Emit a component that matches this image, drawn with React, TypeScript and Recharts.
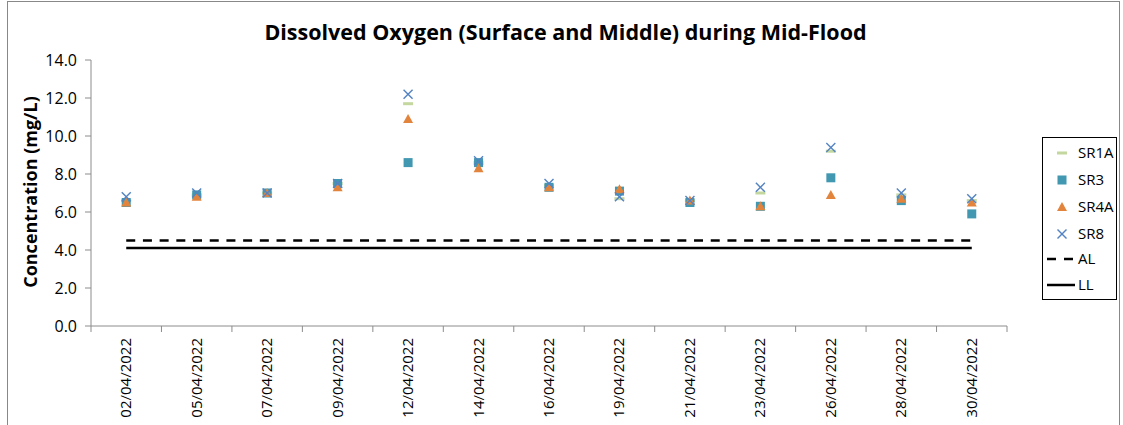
import { ComposedChart, Line, XAxis, YAxis } from "recharts";

const dates = [
  "02/04/2022", "05/04/2022", "07/04/2022", "09/04/2022", "12/04/2022", "14/04/2022", "16/04/2022",
  "19/04/2022", "21/04/2022", "23/04/2022", "26/04/2022", "28/04/2022", "30/04/2022",
];
const sr1a = [6.6, 6.9, 7.0, 7.5, 11.7, 8.6, 7.4, 6.7, 6.6, 7.0, 9.2, 6.9, 6.6];
const sr3 = [6.5, 6.9, 7.0, 7.5, 8.6, 8.6, 7.3, 7.1, 6.5, 6.3, 7.8, 6.6, 5.9];
const sr4a = [6.5, 6.8, 7.0, 7.3, 10.9, 8.3, 7.3, 7.2, 6.6, 6.3, 6.9, 6.7, 6.5];
const sr8 = [6.8, 7.0, 7.0, 7.5, 12.2, 8.7, 7.5, 6.8, 6.6, 7.3, 9.4, 7.0, 6.7];
const actionLevel = [4.5, 4.5, 4.5, 4.5, 4.5, 4.5, 4.5, 4.5, 4.5, 4.5, 4.5, 4.5, 4.5];
const limitLevel = [4.1, 4.1, 4.1, 4.1, 4.1, 4.1, 4.1, 4.1, 4.1, 4.1, 4.1, 4.1, 4.1];
const yTicks = [0, 2, 4, 6, 8, 10, 12, 14];

const FONT = "'Open Sans', sans-serif";
const AXIS = "#8c8c8c";
const C_SR1A = "#C4D79E";
const C_SR3 = "#4198B0";
const C_SR4A = "#E3843C";
const C_SR8 = "#5383C2";

const data = dates.map((d, i) => ({
  x: i + 0.5,
  date: d,
  sr1a: sr1a[i],
  sr3: sr3[i],
  sr4a: sr4a[i],
  sr8: sr8[i],
  al: actionLevel[i],
  ll: limitLevel[i],
}));

// tick marks sit between categories, labels at the centres
const xTicks: number[] = [];
for (let i = 0; i <= dates.length; i++) {
  xTicks.push(i);
  if (i < dates.length) xTicks.push(i + 0.5);
}

const XTick = ({ x, y, payload }: any) => {
  const v = payload.value;
  if (Number.isInteger(v)) {
    return <line x1={x} x2={x} y1={y} y2={y + 6} stroke={AXIS} strokeWidth={1} />;
  }
  const label = dates[Math.floor(v)];
  const ty = y + 12;
  return (
    <text
      x={x + 5}
      y={ty}
      transform={`rotate(-90, ${x + 5}, ${ty})`}
      textAnchor="end"
      fontSize={15}
      fontFamily={FONT}
      fill="#000"
    >
      {label}
    </text>
  );
};

const Dash = ({ cx, cy }: any) =>
  cx == null ? null : <rect x={cx - 5} y={cy - 1.5} width={10} height={3} fill={C_SR1A} />;
const Square = ({ cx, cy }: any) =>
  cx == null ? null : <rect x={cx - 4.5} y={cy - 4.5} width={9} height={9} fill={C_SR3} />;
const Triangle = ({ cx, cy }: any) =>
  cx == null ? null : (
    <polygon points={`${cx},${cy - 5} ${cx + 5},${cy + 4} ${cx - 5},${cy + 4}`} fill={C_SR4A} />
  );
const Cross = ({ cx, cy }: any) =>
  cx == null ? null : (
    <g stroke={C_SR8} strokeWidth={1.4}>
      <line x1={cx - 4.5} y1={cy - 4.5} x2={cx + 4.5} y2={cy + 4.5} />
      <line x1={cx - 4.5} y1={cy + 4.5} x2={cx + 4.5} y2={cy - 4.5} />
    </g>
  );

const legendItems = [
  { name: "SR1A", kind: "dash" },
  { name: "SR3", kind: "square" },
  { name: "SR4A", kind: "triangle" },
  { name: "SR8", kind: "cross" },
  { name: "AL", kind: "dashed" },
  { name: "LL", kind: "solid" },
];

const LegendBox = () => (
  <svg width={76} height={164} style={{ display: "block" }}>
    <rect x={0.5} y={0.5} width={74} height={162} fill="#fff" stroke="#000" strokeWidth={1} />
    {legendItems.map((it, i) => {
      const cy = i < 4 ? 16 + i * 27 : 122 + (i - 4) * 26;
      const mx = 20;
      let icon = null;
      if (it.kind === "dash") icon = <Dash cx={mx} cy={cy} />;
      if (it.kind === "square") icon = <Square cx={mx} cy={cy} />;
      if (it.kind === "triangle") icon = <Triangle cx={mx} cy={cy} />;
      if (it.kind === "cross") icon = <Cross cx={mx} cy={cy} />;
      if (it.kind === "dashed")
        icon = <line x1={5} x2={32} y1={cy} y2={cy} stroke="#000" strokeWidth={2.5} strokeDasharray="9 8" />;
      if (it.kind === "solid") icon = <line x1={5} x2={33} y1={cy} y2={cy} stroke="#000" strokeWidth={2.5} />;
      return (
        <g key={it.name}>
          {icon}
          <text x={36} y={cy} dy="0.35em" fontSize={15} fontFamily={FONT} fill="#000">
            {it.name}
          </text>
        </g>
      );
    })}
  </svg>
);

export default function App() {
  return (
    <div style={{ position: "fixed", left: 0, top: 0, width: 1123, height: 425, background: "#fff", overflow: "hidden" }}>
      <div style={{ position: "absolute", left: 7, top: 1, width: 1113, height: 440, border: "1px solid #888", boxSizing: "border-box" }} />
      <div
        style={{
          position: "absolute",
          left: 0,
          width: 1123,
          top: 17,
          textAlign: "center",
          fontFamily: FONT,
          fontWeight: 700,
          fontSize: 21.5,
          paddingLeft: 8,
          boxSizing: "border-box",
        }}
      >
        Dissolved Oxygen (Surface and Middle) during Mid-Flood
      </div>
      <div
        style={{
          position: "absolute",
          left: 30,
          top: 192,
          transform: "translate(-50%, -50%) rotate(-90deg)",
          whiteSpace: "nowrap",
          fontFamily: FONT,
          fontWeight: 700,
          fontSize: 18,
        }}
      >
        Concentration (mg/L)
      </div>
      <ComposedChart
        width={1123}
        height={425}
        data={data}
        margin={{ top: 60, right: 116, bottom: 0, left: 0 }}
        style={{ position: "absolute", left: 0, top: 0 }}
      >
        <XAxis
          dataKey="x"
          type="number"
          domain={[0, dates.length]}
          ticks={xTicks}
          interval={0}
          height={99}
          tickLine={false}
          tickSize={0}
          tickMargin={0}
          axisLine={{ stroke: AXIS }}
          tick={<XTick />}
        />
        <YAxis
          type="number"
          domain={[0, 14]}
          ticks={yTicks}
          interval={0}
          width={91}
          tickSize={6}
          tickMargin={8}
          axisLine={{ stroke: AXIS }}
          tickLine={{ stroke: AXIS }}
          tickFormatter={(v) => Number(v).toFixed(1)}
          tick={{ fill: "#000", fontSize: 16, fontFamily: FONT }}
        />
        <Line
          dataKey="al"
          type="linear"
          stroke="#000"
          strokeWidth={2.5}
          strokeDasharray="9 7.7"
          dot={false}
          activeDot={false}
          isAnimationActive={false}
        />
        <Line
          dataKey="ll"
          type="linear"
          stroke="#000"
          strokeWidth={2.5}
          dot={false}
          activeDot={false}
          isAnimationActive={false}
        />
        <Line dataKey="sr1a" stroke="none" dot={<Dash />} activeDot={false} isAnimationActive={false} />
        <Line dataKey="sr3" stroke="none" dot={<Square />} activeDot={false} isAnimationActive={false} />
        <Line dataKey="sr4a" stroke="none" dot={<Triangle />} activeDot={false} isAnimationActive={false} />
        <Line dataKey="sr8" stroke="none" dot={<Cross />} activeDot={false} isAnimationActive={false} />
      </ComposedChart>
      <div style={{ position: "absolute", left: 1042, top: 137 }}>
        <LegendBox />
      </div>
    </div>
  );
}
